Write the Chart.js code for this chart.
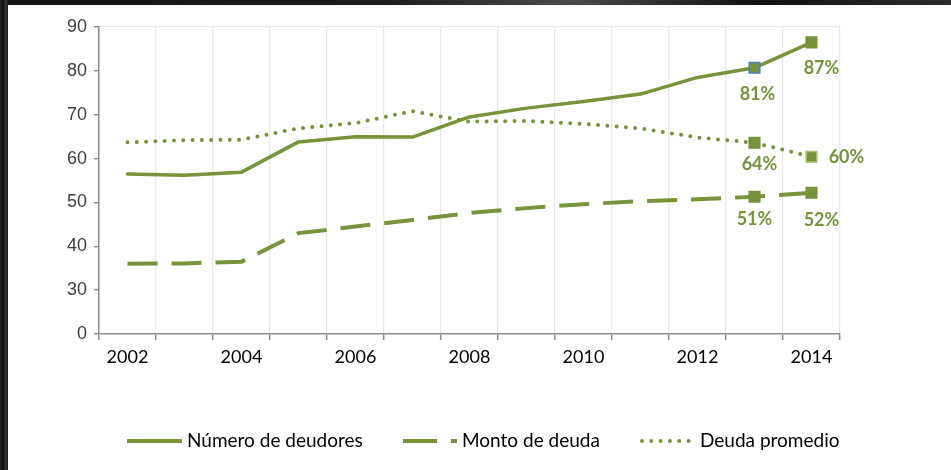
<!DOCTYPE html>
<html><head><meta charset="utf-8">
<script src="https://cdn.jsdelivr.net/npm/chart.js@4.4.1/dist/chart.umd.min.js"></script>
<style>
html,body{margin:0;padding:0;width:951px;height:470px;overflow:hidden;}
body{background:linear-gradient(90deg,#2a2a2a 0,#0c0c0c 3px,#3b3b3b 6px,#151515 8px,#1b1b1b 40%,#4a4a4a 60%,#111 80%,#2c2c2c 100%);}
#panel{position:absolute;left:8px;top:5px;width:943px;height:465px;background:#fff;}
canvas{display:block}
</style></head><body>
<div id="panel"><canvas id="c" width="943" height="465"></canvas></div>
<script>
// ---- data ----
const years = ['2002','2003','2004','2005','2006','2007','2008','2009','2010','2011','2012','2013','2014'];
const numeroDeudores = [56.5,56.2,56.9,63.8,65.0,64.9,69.5,71.5,73.0,74.7,78.5,80.7,86.5];
const montoDeuda     = [36.0,36.1,36.5,43.0,44.5,46.0,47.6,48.7,49.6,50.3,50.7,51.3,52.2];
const deudaPromedio  = [63.7,64.2,64.3,66.9,68.1,70.8,68.4,68.6,67.9,66.9,64.8,63.6,60.4];
const seriesNames = ['Número de deudores','Monto de deuda','Deuda promedio'];
const yTickValues = [20,30,40,50,60,70,80,90];
const yTickLabels = ['0','30','40','50','60','70','80','90'];

// ---- style ----
const GREEN = '#77933c';
const AXIS = '#8c8c8c';
const GRID = '#e9e9e9';
const n = years.length;
const markerRadius = years.map((_, i) => i >= n - 2 ? 7.5 : 0);
const endLabelOffsets = [
  [[3, 26], [10, 26]],
  [[0, 22], [10, 27]],
  [[5, 21], [35, 0]]
];
const legendLayout = [
  {x0: 119, x1: 174, dash: [], cap: 'butt', w: 4, tx: 179},
  {x0: 395, x1: 449, dash: [34, 14], cap: 'butt', w: 4, tx: 454},
  {x0: 634, x1: 684, dash: [0, 9.3], cap: 'round', w: 4, tx: 692}
];

const endLabels = {
  id: 'endLabels',
  afterDatasetsDraw(chart) {
    const ctx = chart.ctx;
    ctx.save();
    ctx.font = 'bold 18px Lato';
    ctx.fillStyle = GREEN;
    ctx.textAlign = 'center';
    ctx.textBaseline = 'middle';
    chart.data.datasets.forEach((ds, di) => {
      const meta = chart.getDatasetMeta(di);
      [n - 2, n - 1].forEach((idx, k) => {
        const p = meta.data[idx];
        const off = endLabelOffsets[di][k];
        ctx.fillText(Math.round(ds.data[idx]) + '%', p.x + off[0], p.y + off[1]);
      });
    });
    ctx.restore();
  }
};

const customLegend = {
  id: 'customLegend',
  afterDraw(chart) {
    const ctx = chart.ctx;
    const y = 436;
    ctx.save();
    chart.data.datasets.forEach((ds, di) => {
      const L = legendLayout[di];
      ctx.strokeStyle = GREEN;
      ctx.lineWidth = L.w;
      ctx.lineCap = L.cap;
      ctx.setLineDash(L.dash);
      ctx.beginPath();
      ctx.moveTo(L.x0, y);
      ctx.lineTo(L.x1, y);
      ctx.stroke();
      ctx.setLineDash([]);
      ctx.fillStyle = '#000';
      ctx.font = '19px Lato';
      ctx.textAlign = 'left';
      ctx.textBaseline = 'middle';
      ctx.fillText(ds.label, L.tx, y);
    });
    ctx.restore();
  }
};

new Chart(document.getElementById('c'), {
  type: 'line',
  data: {
    labels: years,
    datasets: [
      {label: seriesNames[0], data: numeroDeudores, borderColor: GREEN, borderWidth: 3.5,
       borderCapStyle: 'round', borderJoinStyle: 'round', tension: 0,
       pointStyle: 'rect', pointRadius: markerRadius, pointBackgroundColor: GREEN,
       pointBorderColor: years.map((_, i) => i === n - 2 ? '#4f81bd' : GREEN), pointBorderWidth: 1.5},
      {label: seriesNames[1], data: montoDeuda, borderColor: GREEN, borderWidth: 4,
       borderDash: [30, 14], borderCapStyle: 'butt', borderJoinStyle: 'round', tension: 0,
       pointStyle: 'rect', pointRadius: markerRadius, pointBackgroundColor: GREEN,
       pointBorderColor: GREEN, pointBorderWidth: 1.5},
      {label: seriesNames[2], data: deudaPromedio, borderColor: GREEN, borderWidth: 4,
       borderDash: [0, 9.3], borderCapStyle: 'round', borderJoinStyle: 'round', tension: 0,
       pointStyle: 'rect', pointRadius: markerRadius, pointBackgroundColor: GREEN,
       pointBorderColor: years.map((_, i) => i === n - 1 ? '#a5c26a' : GREEN), pointBorderWidth: 1.5}
    ]
  },
  options: {
    responsive: false,
    animation: false,
    layout: {padding: {left: 0, top: 22, right: 111, bottom: 96}},
    plugins: {legend: {display: false}, tooltip: {enabled: false}},
    scales: {
      x: {
        offset: true,
        grid: {offset: true, color: GRID, lineWidth: 1.3, tickColor: AXIS, tickLength: 6, tickWidth: 1.5},
        border: {color: AXIS, width: 1.5},
        ticks: {autoSkip: false, maxRotation: 0, padding: 6, color: '#000',
                font: {family: 'Lato', size: 18},
                callback: (v, i) => i % 2 === 0 ? years[i] : ''},
        afterFit: s => { s.height = 40; }
      },
      y: {
        min: 20, max: 90,
        ticks: {stepSize: 10, padding: 7, color: '#404040',
                font: {family: 'Liberation Sans', size: 18},
                callback: v => yTickLabels[yTickValues.indexOf(v)]},
        grid: {color: c => (c.tick && c.tick.value === 90) ? GRID : 'rgba(0,0,0,0)',
               lineWidth: 1.3, tickColor: AXIS, tickLength: 5, tickWidth: 1.5},
        border: {color: AXIS, width: 1.5},
        afterFit: s => { s.width = 91; }
      }
    }
  },
  plugins: [endLabels, customLegend]
});
</script>
</body></html>
